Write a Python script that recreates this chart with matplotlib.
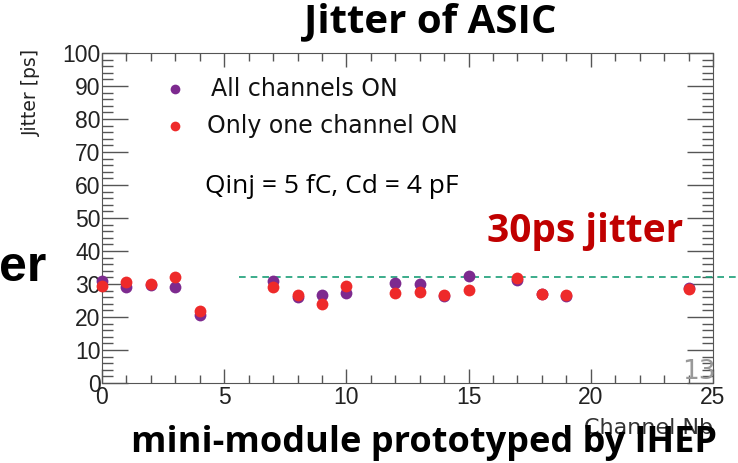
import matplotlib.pyplot as plt
from matplotlib.ticker import MultipleLocator

# Jitter per channel
channels = [0, 1, 2, 3, 4, 7, 8, 9, 10, 12, 13, 14, 15, 17, 18, 19, 24]
all_on = [30.9, 29.1, 29.8, 29.1, 20.6, 30.9, 26.2, 26.7, 27.4, 30.2, 29.9, 26.4, 32.4, 31.2, 27.0, 26.4, 28.9]
one_on = [29.4, 30.6, 29.9, 32.1, 21.8, 29.1, 26.7, 23.8, 29.4, 27.4, 27.7, 26.6, 28.2, 31.9, 27.1, 26.6, 28.4]
ref_jitter = 32.1

purple = "#7d2a8f"
red = "#ee2a2a"

fig = plt.figure(figsize=(7.38, 4.63), dpi=100)
ax = fig.add_axes([102 / 738, 1 - 383 / 463, 611 / 738, 330 / 463])

ax.plot(channels, all_on, "o", color=purple, ms=8.5, mec="none", clip_on=False, zorder=3)
ax.plot(channels, one_on, "o", color=red, ms=8.5, mec="none", clip_on=False, zorder=4)

# horizontal 30 ps reference line, runs past the frame
ax.plot([5.6, 26.2], [ref_jitter, ref_jitter], "--", color="#1a9e77", lw=1.2, clip_on=False, dashes=(4, 3))

ax.set_xlim(0, 25)
ax.set_ylim(0, 100)
ax.xaxis.set_major_locator(MultipleLocator(5))
ax.xaxis.set_minor_locator(MultipleLocator(1))
ax.yaxis.set_major_locator(MultipleLocator(10))
ax.yaxis.set_minor_locator(MultipleLocator(2))
ax.tick_params(which="both", direction="in", top=True, right=True, colors="#555555",
               labelcolor="#222222", labelsize=16.5, width=1)
ax.tick_params(axis="y", which="major", length=19, pad=1)
ax.tick_params(axis="y", which="minor", length=8)
ax.tick_params(axis="x", which="major", length=10, pad=2)
ax.tick_params(axis="x", which="minor", length=6)
for lab in ax.get_xticklabels() + ax.get_yticklabels():
    lab.set_family("Liberation Sans")
for s in ax.spines.values():
    s.set_color("#555555")

fig.text(31 / 738, 1 - 92 / 463, "Jitter [ps]", rotation=90, ha="center", va="center",
         fontsize=13.5, color="#222222")

# legend drawn like the original
ax.plot([3.0], [89], "o", color=purple, ms=7, mec="none")
ax.plot([3.0], [77.8], "o", color=red, ms=7, mec="none")
ax.text(4.45, 89, "All channels ON", fontsize=17, va="center", color="#111111")
ax.text(4.3, 77.8, "Only one channel ON", fontsize=17, va="center", color="#111111")
ax.text(4.2, 59.5, "Qinj = 5 fC, Cd = 4 pF", fontsize=19, va="center", family="Open Sans", color="black")

fig.text(430 / 738, 1 - 22 / 463, "Jitter of ASIC", ha="center", va="center",
         fontsize=29, fontweight="bold", family="Open Sans")
fig.text(585 / 738, 1 - 232 / 463, "30ps jitter", ha="center", va="center",
         fontsize=28, fontweight="bold", family="Open Sans", color="#c00000")
fig.text(46 / 738, 1 - 268 / 463, "er", ha="right", va="center",
         fontsize=36, fontweight="bold", family="Liberation Sans")
fig.text(649 / 738, 1 - 428 / 463, "Channel Nb", ha="center", va="center",
         fontsize=16, color="#333333", zorder=1)
fig.text(424 / 738, 1 - 443 / 463, "mini-module prototyped by IHEP", ha="center", va="center",
         fontsize=26, fontweight="bold", family="Open Sans", zorder=5)
fig.text(699 / 738, 1 - 372 / 463, "13", ha="center", va="center",
         fontsize=19, color="#999999")

fig.savefig("out.png", dpi=100)
